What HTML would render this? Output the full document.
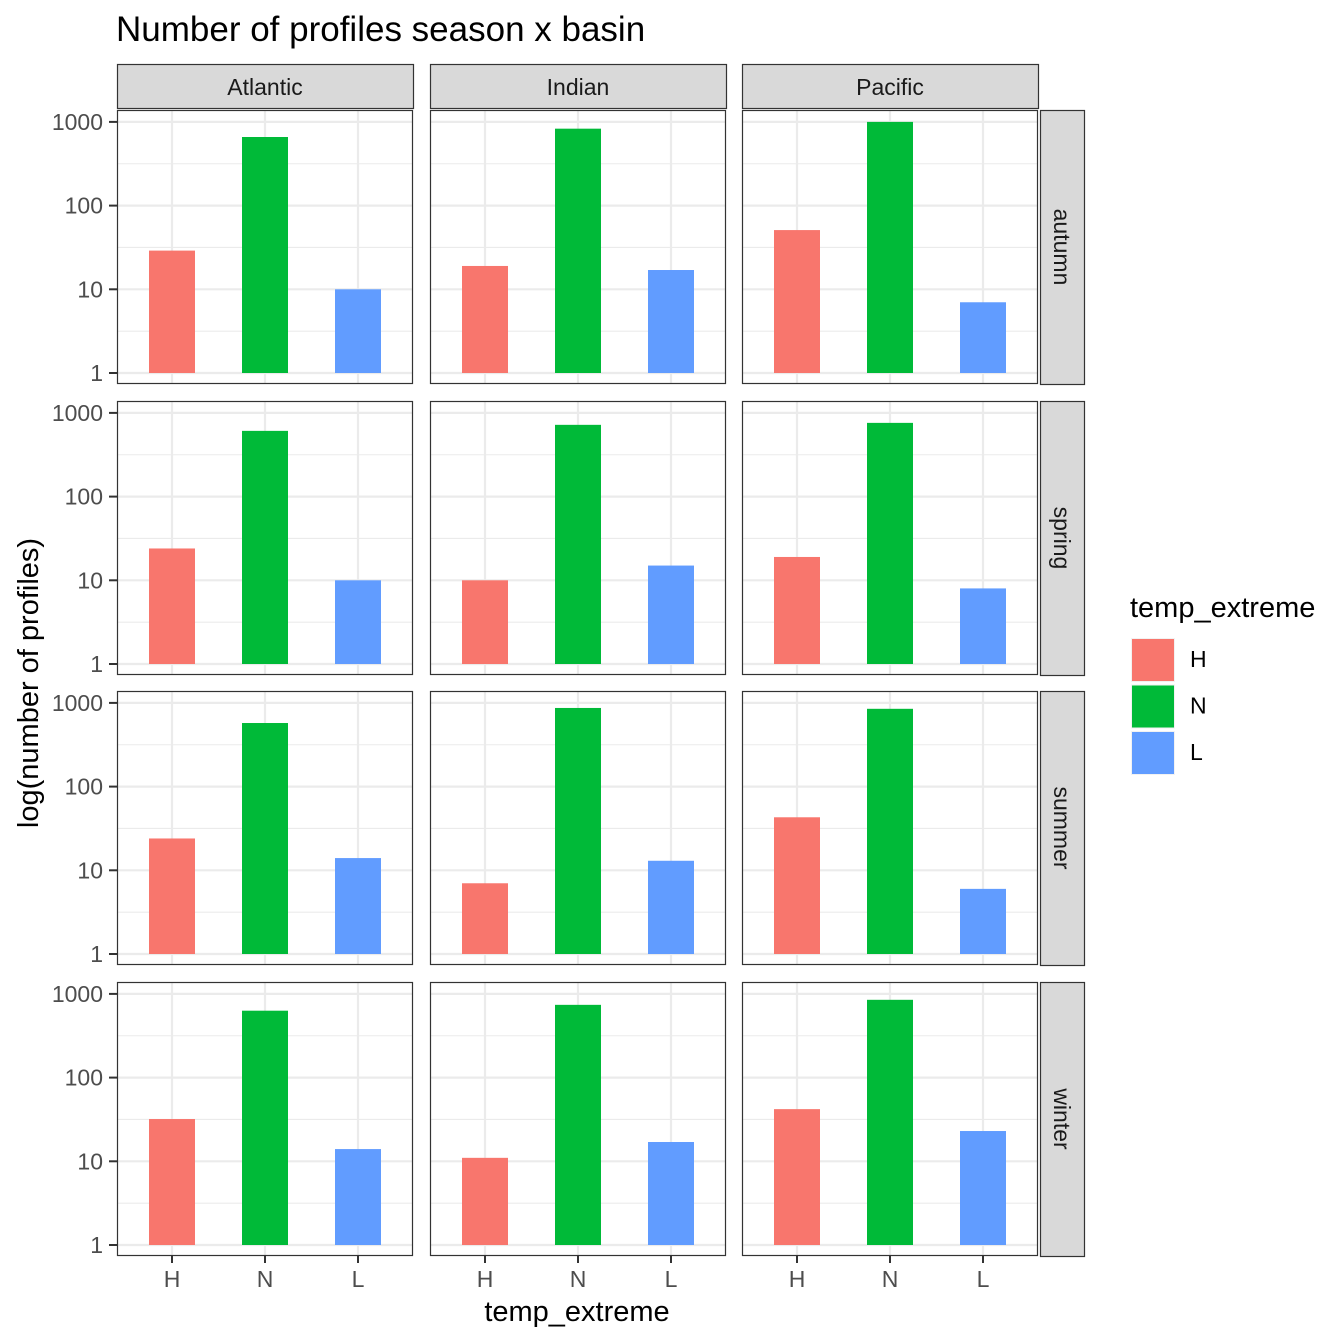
<!DOCTYPE html>
<html><head><meta charset="utf-8"><style>
html,body{margin:0;padding:0;background:#fff}
svg{display:block;font-family:"Liberation Sans",Arial,sans-serif}
</style></head><body>
<svg id="chart" width="1344" height="1344" viewBox="0 0 1344 1344" xmlns="http://www.w3.org/2000/svg"></svg>
<script>
const basins = ["Atlantic","Indian","Pacific"];
const seasons = ["autumn","spring","summer","winter"];
const categories = ["H","N","L"];
const colors = ["#F8766D","#00BA38","#619CFF"];
const yTicks = [1,10,100,1000];
const yTickLabels = ["1","10","100","1000"];
// values[season][basin] = [H, N, L]
const autumnVals = [[29,660,10],[19,830,17],[51,1000,7]];
const springVals = [[24,610,10],[10,720,15],[19,760,8]];
const summerVals = [[24,575,14],[7,870,13],[43,850,6]];
const winterVals = [[32,630,14],[11,740,17],[42,850,23]];
const values = [autumnVals, springVals, summerVals, winterVals];

const svg = document.getElementById('chart');
const NS = "http://www.w3.org/2000/svg";
function mk(tag, attrs, parent){const e=document.createElementNS(NS,tag);for(const k in attrs)e.setAttribute(k,attrs[k]);(parent||svg).appendChild(e);return e;}

const colX = [117,430,742], panelW = 296;
const rowY = [110,401,691,982], panelH = 274;
const decade = 83.7;
function yScale(row, v){ return rowY[row] + 263 - Math.log10(v)*decade; }
function xScale(col, i){ return colX[col] + 55 + i*93; }

let t = mk('text',{x:116,y:41,'font-size':'35','fill':'#000'});


t.textContent = "Number of profiles season x basin";

for(let c=0;c<3;c++){
  let s = mk('rect',{x:colX[c]+0.5,y:64.5,width:panelW,height:44,fill:'#D9D9D9',stroke:'#333','stroke-width':1.2});
  
  
  let st = mk('text',{x:colX[c]+panelW/2,y:95,'text-anchor':'middle','font-size':'23','fill':'#1A1A1A'});
  
  
  st.textContent = basins[c];
}
for(let r=0;r<4;r++){
  let s = mk('rect',{x:1040.5,y:rowY[r]+0.5,width:44,height:panelH,fill:'#D9D9D9',stroke:'#333','stroke-width':1.2});
  
  
  let cy = rowY[r]+panelH/2;
  let st = mk('text',{x:1054,y:cy,'text-anchor':'middle','font-size':'23','fill':'#1A1A1A',transform:`rotate(90 1054 ${cy})`});
  
  
  st.textContent = seasons[r];

  for(let k=0;k<yTicks.length;k++){
    const y = yScale(r,yTicks[k]);
    let tk = mk('line',{x1:109,x2:117,y1:y,y2:y,stroke:'#333','stroke-width':2});
    
    
    let tl = mk('text',{x:103,y:y+8,'text-anchor':'end','font-size':'23','fill':'#4D4D4D'});
    
    
    tl.textContent = yTickLabels[k];
  }

  for(let c=0;c<3;c++){
    const g = mk('g',{});
    
    
    mk('rect',{x:colX[c],y:rowY[r],width:panelW,height:panelH,fill:'#fff'},g);
    for(let k=0;k<yTicks.length;k++){
      const y = yScale(r,yTicks[k]);
      mk('line',{x1:colX[c],x2:colX[c]+panelW,y1:y,y2:y,stroke:'#EBEBEB','stroke-width':2.2},g);
      if(k<yTicks.length-1){
        const ym = yScale(r,yTicks[k]*Math.sqrt(10));
        mk('line',{x1:colX[c],x2:colX[c]+panelW,y1:ym,y2:ym,stroke:'#EBEBEB','stroke-width':1.1},g);
      }
    }
    for(let i=0;i<3;i++){
      const x = xScale(c,i);
      mk('line',{x1:x,x2:x,y1:rowY[r],y2:rowY[r]+panelH,stroke:'#EBEBEB','stroke-width':2.2},g);
    }
    const vals = values[r][c];
    for(let i=0;i<3;i++){
      const x = xScale(c,i), y0 = yScale(r,1), y1 = yScale(r,vals[i]);
      const b = mk('rect',{x:x-23,y:y1,width:46,height:y0-y1,fill:colors[i]},g);
      
      
    }
    mk('rect',{x:colX[c]+0.5,y:rowY[r]+0.5,width:panelW-1,height:panelH-1,fill:'none',stroke:'#333','stroke-width':1.2},g);
  }
}
for(let c=0;c<3;c++){
  for(let i=0;i<3;i++){
    const x = xScale(c,i);
    let tk = mk('line',{x1:x,x2:x,y1:1256,y2:1263,stroke:'#333','stroke-width':2});
    
    
    let tl = mk('text',{x:x,y:1287,'text-anchor':'middle','font-size':'23','fill':'#4D4D4D'});
    
    
    tl.textContent = categories[i];
  }
}
let xt = mk('text',{x:577,y:1321,'text-anchor':'middle','font-size':'29','fill':'#000'});


xt.textContent = "temp_extreme";
let yt = mk('text',{x:38,y:683,'text-anchor':'middle','font-size':'29','fill':'#000',transform:'rotate(-90 38 683)'});


yt.textContent = "log(number of profiles)";

let lt = mk('text',{x:1130,y:617,'font-size':'29','fill':'#000'});


lt.textContent = "temp_extreme";
for(let i=0;i<3;i++){
  const y = 638 + i*46.5;
  mk('rect',{x:1131,y:y,width:44,height:44,fill:'#F2F2F2'});
  let k = mk('rect',{x:1132,y:y+1,width:42,height:42,fill:colors[i]});
  
  
  let l = mk('text',{x:1190,y:y+29,'font-size':'23','fill':'#000'});
  
  
  l.textContent = categories[i];
}
</script>
</body></html>
